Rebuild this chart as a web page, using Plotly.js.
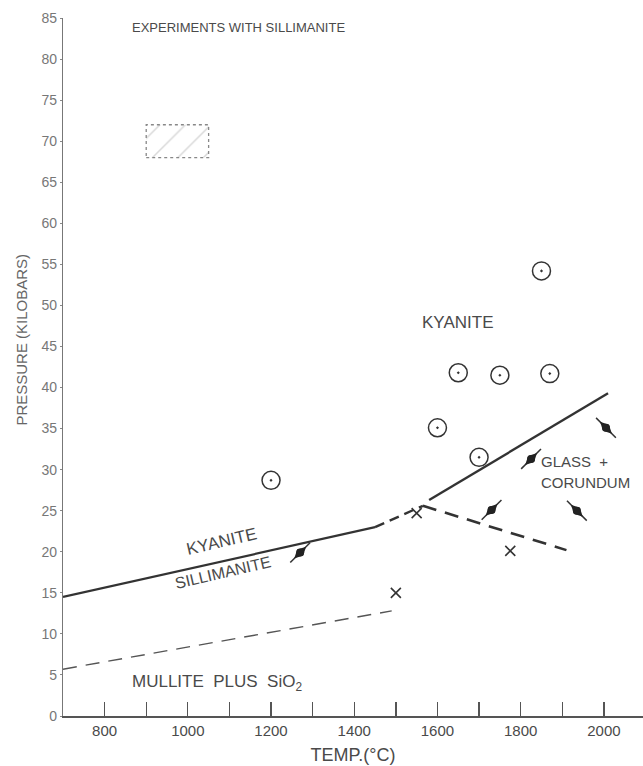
<!DOCTYPE html>
<html>
<head>
<meta charset="utf-8">
<script src="https://cdn.plot.ly/plotly-3.0.1.min.js"></script>
<style>html,body{margin:0;padding:0;background:#fff;}#chart{width:643px;height:766px;}</style>
</head>
<body>
<div id="chart"></div>
<script>
// ---- data ----
const kyaniteT = [1200, 1600, 1650, 1750, 1870, 1700, 1850];
const kyaniteP = [28.7, 35.1, 41.8, 41.5, 41.7, 31.5, 54.2];

const glassT = [1270, 1730, 1825, 1935, 2005];
const glassP = [19.9, 25.1, 31.3, 25.0, 35.1];

const crossT = [1550, 1775, 1500];
const crossP = [24.7, 20.1, 15.0];

const kySilT = [700, 1450];
const kySilP = [14.5, 23.0];
const kySilDashT = [1450, 1565];
const kySilDashP = [23.0, 25.6];
const kyGlassT = [1580, 2010];
const kyGlassP = [26.3, 39.3];
const silGlassT = [1565, 1910];
const silGlassP = [25.6, 20.2];
const mulliteT = [700, 1490];
const mulliteP = [5.7, 12.8];

const boxT = [900, 1050];
const boxP = [68, 72];

const xTickVals = [800, 1000, 1200, 1400, 1600, 1800, 2000];
const yTickVals = [0, 5, 10, 15, 20, 25, 30, 35, 40, 45, 50, 55, 60, 65, 70, 75, 80, 85];

// style only
const glassTilt = [45, 45, 45, -45, -45];

const ink = '#333333';
const FONT = 'Liberation Sans, Arial, sans-serif';
const txt = '#4a4a4a';

const traces = [
  {x: [boxT[0], boxT[1], boxT[1], boxT[0], boxT[0]],
   y: [boxP[0], boxP[0], boxP[1], boxP[1], boxP[0]],
   mode: 'lines', fill: 'toself', fillcolor: 'rgba(255,255,255,0)',
   fillpattern: {shape: '/', fgcolor: '#d8d8d8', bgcolor: 'rgba(0,0,0,0)', size: 18, solidity: 0.08},
   line: {color: '#888', width: 1.3, dash: 'dot'}, hoverinfo: 'skip'},
  {x: kySilT, y: kySilP, mode: 'lines', line: {color: ink, width: 2.2}},
  {x: kySilDashT, y: kySilDashP, mode: 'lines', line: {color: ink, width: 2.4, dash: '10px,6px'}},
  {x: kyGlassT, y: kyGlassP, mode: 'lines', line: {color: ink, width: 2.4}},
  {x: silGlassT, y: silGlassP, mode: 'lines', line: {color: ink, width: 2.6, dash: '14px,9px'}},
  {x: mulliteT, y: mulliteP, mode: 'lines', line: {color: '#555', width: 1.4, dash: '14px,9px'}},
  {x: kyaniteT, y: kyaniteP, mode: 'markers',
   marker: {symbol: 'circle-open-dot', size: 18, color: ink, line: {width: 1.5, color: ink}}},
  {x: glassT, y: glassP, mode: 'markers',
   marker: {symbol: 'line-ns', size: 20, angle: glassTilt, color: ink, line: {width: 1.5, color: ink}}},
  {x: glassT, y: glassP, mode: 'markers',
   marker: {symbol: 'diamond-tall', size: 12, angle: glassTilt, color: '#222', line: {width: 0}}},
  {x: glassT, y: glassP, mode: 'markers',
   marker: {symbol: 'circle', size: 8, color: '#222', line: {width: 0}}},
  {x: crossT, y: crossP, mode: 'markers',
   marker: {symbol: 'x-thin-open', size: 10, color: ink, line: {width: 1.6, color: ink}}}
];

const ann = (text, x, y, size, opts) => Object.assign({text: text, x: x, y: y, xref: 'x', yref: 'y',
  showarrow: false, font: {family: FONT, size: size, color: txt}}, opts || {});

const layout = {
  width: 643, height: 766,
  margin: {l: 63, r: 0, t: 18, b: 50},
  paper_bgcolor: '#fff', plot_bgcolor: '#fff',
  showlegend: false,
  font: {family: FONT, color: '#555'},
  xaxis: {range: [700, 2094], showgrid: false, zeroline: false,
    showline: true, linecolor: '#555', linewidth: 1.5,
    tickmode: 'array', tickvals: xTickVals,
    ticks: 'inside', ticklen: 14, tickwidth: 1.3, tickcolor: '#555',
    minor: {dtick: 100, tick0: 700, ticks: 'inside', ticklen: 14, tickwidth: 1.3, tickcolor: '#555', showgrid: false},
    tickfont: {family: FONT, size: 15, color: txt},
    title: {text: 'TEMP.(°C)', font: {family: FONT, size: 18, color: txt}, standoff: 11}},
  yaxis: {range: [0, 85], showgrid: false, zeroline: false,
    showline: true, linecolor: '#777', linewidth: 1.2,
    tickmode: 'array', tickvals: yTickVals,
    ticks: 'outside', ticklen: 2, tickwidth: 1, tickcolor: '#888',
    tickfont: {family: FONT, size: 14, color: '#777'}},
  annotations: [
    {text: 'PRESSURE (KILOBARS)', xref: 'paper', yref: 'paper', x: -0.071, y: 0.539,
     xanchor: 'center', yanchor: 'middle', textangle: -90, showarrow: false,
     font: {family: FONT, size: 15, color: '#666'}},
    ann('EXPERIMENTS WITH SILLIMANITE', 862, 83.9, 13, {xanchor: 'left', yanchor: 'middle'}),
    ann('KYANITE', 1647, 47.9, 17, {xanchor: 'center', yanchor: 'middle'}),
    ann('GLASS  +', 1845, 31.0, 15, {xanchor: 'left', yanchor: 'middle'}),
    ann('CORUNDUM', 1845, 28.4, 15, {xanchor: 'left', yanchor: 'middle'}),
    ann('KYANITE', 1082, 21.2, 17, {xanchor: 'center', yanchor: 'middle', textangle: -13}),
    ann('SILLIMANITE', 1085, 17.5, 16, {xanchor: 'center', yanchor: 'middle', textangle: -13}),
    ann('MULLITE  PLUS  SiO<sub>2</sub>', 862, 4.0, 17, {xanchor: 'left', yanchor: 'middle'})
  ]
};

Plotly.newPlot('chart', traces, layout, {staticPlot: true, displayModeBar: false});
</script>
</body>
</html>
